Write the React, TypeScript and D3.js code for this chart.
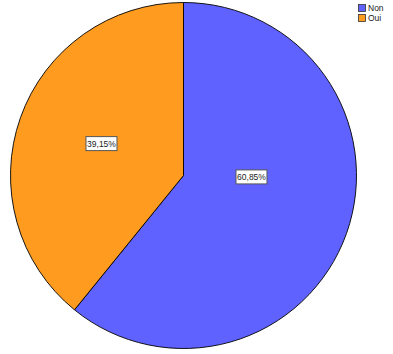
import React from "react";
import * as d3 from "d3";

const categories = ["Non", "Oui"];
const values = [60.85, 39.15];
const colors = ["#5F62FF", "#FF9B1F"];
const labels = ["60,85%", "39,15%"];

const W = 393;
const H = 354;
const cx = 183.5;
const cy = 175.5;
const R = 173;

export default function App() {
  const pie = d3.pie<number>().sort(null).value((d) => d);
  const arcs = pie(values);
  const arc = d3.arc<d3.PieArcDatum<number>>().innerRadius(0).outerRadius(R);
  const labelPos = [
    { r: 68, angleShift: -0.32 },
    { r: 88, angleShift: 0.03 },
  ];
  return (
    <svg
      width={W}
      height={H}
      style={{ position: "absolute", left: 0, top: 0, background: "#fff" }}
      fontFamily="Arial, 'Liberation Sans', sans-serif"
    >
      <g transform={`translate(${cx},${cy})`}>
        {arcs.map((a, i) => (
          <path key={i} d={arc(a) || ""} fill={colors[i]} stroke="#000" strokeWidth={0.9} />
        ))}
        {arcs.map((a, i) => {
          const mid = (a.startAngle + a.endAngle) / 2 + labelPos[i].angleShift;
          const x = labelPos[i].r * Math.sin(mid);
          const y = -labelPos[i].r * Math.cos(mid);
          const w = 31;
          const h = 14;
          return (
            <g key={"l" + i} transform={`translate(${x},${y})`}>
              <rect x={-w / 2} y={-h / 2} width={w} height={h} fill="#fff" stroke="#555" strokeWidth={1} />
              <text textAnchor="middle" dy="0.35em" fontSize={8.5} fill="#222">
                {labels[i]}
              </text>
            </g>
          );
        })}
      </g>
      <g transform="translate(358,4)">
        {categories.map((c, i) => (
          <g key={c} transform={`translate(0,${i * 10})`}>
            <rect x={0.5} y={0.5} width={7} height={7} fill={colors[i]} stroke="#333" strokeWidth={0.8} />
            <text x={10} y={7} fontSize={8.5} fill="#222">
              {c}
            </text>
          </g>
        ))}
      </g>
    </svg>
  );
}
